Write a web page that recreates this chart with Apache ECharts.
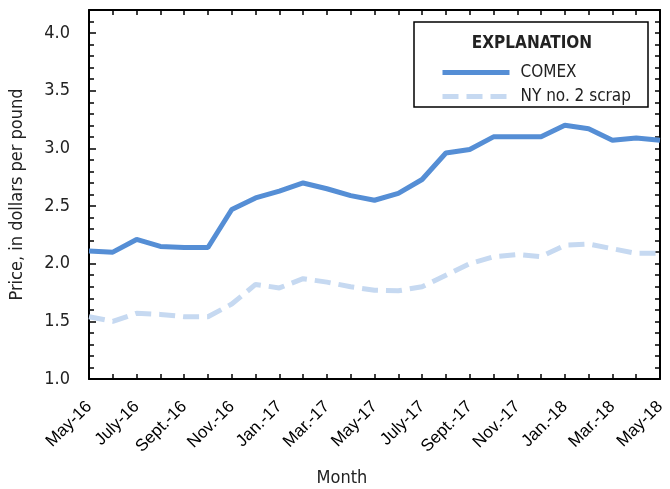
<!DOCTYPE html>
<html>
<head>
<meta charset="utf-8">
<script src="https://cdn.jsdelivr.net/npm/echarts@6/dist/echarts.min.js"></script>
<style>
  html, body { margin: 0; padding: 0; background: #fff; }
  #chart { width: 670px; height: 489px; }
</style>
</head>
<body>
<div id="chart"></div>
<script>
// months, May 2016 - May 2018
const months = [
  'May-16', 'June-16', 'July-16', 'Aug.-16', 'Sept.-16', 'Oct.-16', 'Nov.-16', 'Dec.-16',
  'Jan.-17', 'Feb.-17', 'Mar.-17', 'Apr.-17', 'May-17', 'June-17', 'July-17', 'Aug.-17',
  'Sept.-17', 'Oct.-17', 'Nov.-17', 'Dec.-17', 'Jan.-18', 'Feb.-18', 'Mar.-18', 'Apr.-18', 'May-18'
]
const comex = [2.11, 2.10, 2.21, 2.15, 2.14, 2.14, 2.47, 2.57, 2.63, 2.70, 2.65, 2.59, 2.55,
  2.61, 2.73, 2.96, 2.99, 3.10, 3.10, 3.10, 3.20, 3.17, 3.07, 3.09, 3.07]
const nyScrap = [1.54, 1.50, 1.57, 1.56, 1.54, 1.54, 1.65, 1.82, 1.79, 1.87, 1.84, 1.80, 1.77,
  1.765, 1.80, 1.90, 2.00, 2.06, 2.08, 2.06, 2.16, 2.17, 2.13, 2.09, 2.09]
const seriesNames = ['COMEX', 'NY no. 2 scrap']

const narrow = '"Liberation Sans Narrow", "Arial Narrow", "DejaVu Sans Condensed", sans-serif'
const axisLine = { show: true, lineStyle: { color: '#000', width: 2 } }

const chart = echarts.init(document.getElementById('chart'))
chart.setOption({
  animation: false,
  grid: { left: 89, right: 10, top: 10, bottom: 110 },
  xAxis: [
    {
      type: 'category',
      data: months,
      boundaryGap: false,
      axisLine,
      axisTick: { show: true, inside: true, length: 5, interval: 0, lineStyle: { color: '#000', width: 1.5 } },
      axisLabel: {
        interval: 1,
        rotate: 45,
        margin: 25,
        color: '#000',
        fontFamily: '"Liberation Sans", Arial, sans-serif',
        fontSize: 17
      },
      splitLine: { show: false }
    },
    {
      type: 'category',
      data: months,
      position: 'top',
      boundaryGap: false,
      axisLine,
      axisTick: { show: true, inside: true, length: 5, interval: 0, lineStyle: { color: '#000', width: 1.5 } },
      axisLabel: { show: false },
      splitLine: { show: false }
    }
  ],
  yAxis: [
    {
      type: 'value',
      min: 1,
      max: 4.2,
      interval: 0.5,
      name: 'Price, in dollars per pound',
      nameLocation: 'middle',
      nameGap: 63,
      nameTextStyle: { color: '#222', fontFamily: narrow, fontSize: 18 },
      axisLine,
      axisTick: { show: true, inside: true, length: 7, lineStyle: { color: '#000', width: 1.5 } },
      axisLabel: {
        color: '#222',
        fontFamily: narrow,
        fontSize: 18,
        margin: 19,
        showMaxLabel: false,
        formatter: (v) => v.toFixed(1)
      },
      splitLine: { show: false }
    },
    {
      // minor ticks on the left
      type: 'value',
      min: 1,
      max: 4.2,
      interval: 0.1,
      position: 'left',
      axisLine: { show: false },
      axisTick: { show: true, inside: true, length: 5, lineStyle: { color: '#000', width: 1.5 } },
      axisLabel: { show: false },
      splitLine: { show: false }
    },
    {
      type: 'value',
      min: 1,
      max: 4.2,
      interval: 0.1,
      position: 'right',
      axisLine,
      axisTick: { show: true, inside: true, length: 5, lineStyle: { color: '#000', width: 1.5 } },
      axisLabel: { show: false },
      splitLine: { show: false }
    }
  ],
  legend: {
    orient: 'vertical',
    left: 435,
    top: 59,
    itemWidth: 67,
    itemHeight: 14,
    itemGap: 7,
    data: seriesNames,
    itemStyle: { opacity: 0 },
    lineStyle: { width: 5 },
    textStyle: { color: '#222', fontFamily: narrow, fontSize: 17, padding: [0, 0, 0, 6] }
  },
  graphic: [
    {
      type: 'rect',
      shape: { x: 414, y: 22, width: 234, height: 85 },
      style: { fill: '#fff', stroke: '#000', lineWidth: 1.5 },
      z: 3
    },
    {
      type: 'text',
      x: 532,
      y: 44,
      style: {
        text: 'EXPLANATION',
        fill: '#222',
        font: 'bold 17px ' + narrow,
        textAlign: 'center',
        textVerticalAlign: 'middle'
      },
      z: 4
    },
    {
      type: 'text',
      x: 342,
      y: 478,
      style: {
        text: 'Month',
        fill: '#222',
        font: '18px ' + narrow,
        textAlign: 'center',
        textVerticalAlign: 'middle'
      }
    }
  ],
  series: [
    {
      name: seriesNames[0],
      type: 'line',
      data: comex,
      symbol: 'none',
      lineStyle: { color: '#558ed5', width: 5 },
      itemStyle: { color: '#558ed5' },
      z: 3
    },
    {
      name: seriesNames[1],
      type: 'line',
      data: nyScrap,
      symbol: 'none',
      lineStyle: { color: '#c6d9f1', width: 5, type: [16, 8] },
      itemStyle: { color: '#c6d9f1' },
      z: 2
    }
  ]
})
</script>
</body>
</html>
